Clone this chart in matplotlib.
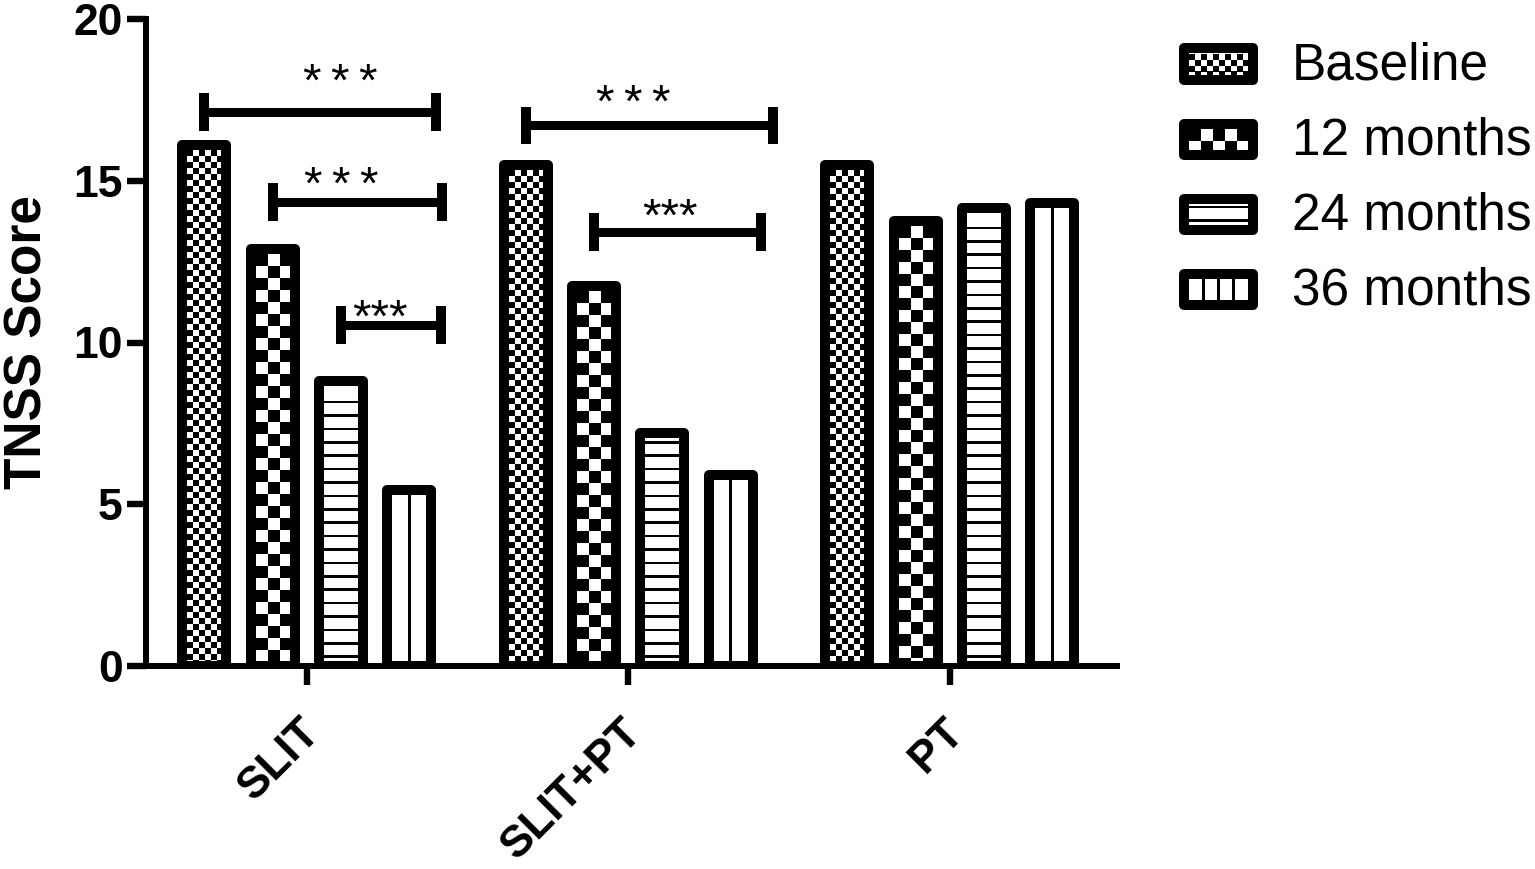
import numpy as np
import matplotlib
matplotlib.use("Agg")
import matplotlib.pyplot as plt
from matplotlib.patches import Rectangle
from matplotlib.collections import PatchCollection
from matplotlib.legend_handler import HandlerBase
from matplotlib.transforms import Affine2D, ScaledTranslation

# ----------------------------- Data ------------------------------------------

GROUPS = ["SLIT", "SLIT+PT", "PT"]
SERIES = ["Baseline", "12 months", "24 months", "36 months"]
BASELINE = [16.1, 15.5, 15.5]
MONTH_12 = [12.9, 11.75, 13.75]
MONTH_24 = [8.8, 7.2, 14.15]
MONTH_36 = [5.45, 5.9, 14.3]
VALUES = [BASELINE, MONTH_12, MONTH_24, MONTH_36]

# significance brackets: (group, from series, to series, line height, stars)
BRACKETS = [
    (0, 0, 3, 17.12, "*\u2009*\u2009*"),
    (0, 1, 3, 14.34, "*\u2009*\u2009*"),
    (0, 2, 3, 10.54, "***"),
    (1, 0, 2, 16.71, "*\u2009*\u2009*"),
    (1, 1, 3, 13.42, "***"),
]
# extra reach past the right bar, label shift, label top (layout only)
BRACKET_REACH = [0.083, 0.102, 0.098, 0.343, 0.095]
STAR_DX = [0.062, -0.049, -0.035, -0.051, -0.025]
STAR_TOP = [18.67, 15.49, 11.40, 18.02, 14.50]

PATTERNS = ["fine", "coarse", "hlines", "vlines"]

# ----------------------------- Style -----------------------------------------

DPI = 100
PX = 72.0 / DPI            # points per pixel
EDGE_PX = 10.0
EDGE_LW = EDGE_PX * PX
BAR_WIDTH = 0.137
BAR_STEP = 0.2125

plt.rcParams["font.family"] = ["Liberation Sans", "DejaVu Sans"]


def pattern_rects(kind, w, h):
    """Black rectangles (in pixels) filling an inner area of w x h pixels."""
    rects = []
    if kind in ("fine", "coarse"):
        c = 6.0 if kind == "fine" else 12.0
        nx = int(np.ceil(w / c))
        ny = int(np.ceil(h / c))
        for i in range(nx):
            for j in range(ny):
                if (i + j) % 2 == 0:
                    x, y = i * c, h - (j + 1) * c
                    y0 = max(y, 0.0)
                    rects.append((x, y0, min(c, w - x), y + c - y0))
    elif kind == "hlines":
        step, thick = 13.4, 2.6
        y = 3.0
        while y + thick < h - 2.0:
            rects.append((0.0, y, w, thick))
            y += step
    elif kind == "vlines":
        step, thick = 15.0, 3.0
        centre = w / 2.0
        k = int(w // step) + 1
        for i in range(-k, k + 1):
            x = centre + i * step
            if x - thick / 2 >= 4.0 and x + thick / 2 <= w - 4.0:
                rects.append((x - thick / 2, 0.0, thick, h))
    return rects


class HandlerPattern(HandlerBase):
    def __init__(self, kind):
        super().__init__()
        self.kind = kind

    def create_artists(self, legend, orig_handle, xdescent, ydescent,
                       width, height, fontsize, trans):
        half = EDGE_LW / 2
        x0, y0 = -xdescent + half, -ydescent + half - 2.5 * PX
        w, h = width - EDGE_LW, height - EDGE_LW
        arts = []
        ix, iy = x0 + half, y0 + half
        iw, ih = (w - EDGE_LW) / PX, (h - EDGE_LW) / PX
        for rx, ry, rw, rh in pattern_rects(self.kind, iw, ih):
            arts.append(Rectangle((ix + rx * PX, iy + ry * PX), rw * PX, rh * PX,
                                  facecolor="black", edgecolor="none",
                                  transform=trans))
        arts.append(Rectangle((x0, y0), w, h, facecolor="none", edgecolor="black",
                              linewidth=EDGE_LW, joinstyle="round", transform=trans))
        return arts


fig = plt.figure(figsize=(15.35, 8.69), dpi=DPI)
ax = fig.add_axes([146 / 1535, (869 - 666) / 869, (1117 - 146) / 1535, (666 - 19) / 869])
ax.set_xlim(-0.5, 2.52)
ax.set_ylim(0, 20)

p0 = ax.transData.transform((0, 0))
p1 = ax.transData.transform((1, 1))
sx, sy = p1 - p0

x = np.arange(len(GROUPS))
offsets = (np.arange(len(SERIES)) - 1.5) * BAR_STEP

for k, vals in enumerate(VALUES):
    xs = x + offsets[k]
    ax.bar(xs, vals, BAR_WIDTH, facecolor="none", edgecolor="black",
           linewidth=EDGE_LW, joinstyle="round", zorder=3)
    for xc, v in zip(xs, vals):
        w_px = BAR_WIDTH * sx - EDGE_PX
        h_px = v * sy - EDGE_PX
        rects = [Rectangle((rx, ry), rw, rh)
                 for rx, ry, rw, rh in pattern_rects(PATTERNS[k], w_px, h_px)]
        tr = (Affine2D().scale(1 / sx, 1 / sy)
              .translate(xc - BAR_WIDTH / 2 + EDGE_PX / 2 / sx, EDGE_PX / 2 / sy)
              + ax.transData)
        pc = PatchCollection(rects, facecolor="black", edgecolor="none",
                             transform=tr, zorder=2)
        ax.add_collection(pc)

# significance brackets
cap = 0.58
for (g, i0, i1, yb, stars), reach, dx, top in zip(BRACKETS, BRACKET_REACH, STAR_DX, STAR_TOP):
    xl = g + offsets[i0]
    xr = g + offsets[i1] + reach
    ax.plot([xl, xr], [yb, yb], color="black", lw=6.5, solid_capstyle="butt", zorder=4)
    for xe in (xl, xr):
        ax.plot([xe, xe], [yb - cap, yb + cap], color="black", lw=7.2,
                solid_capstyle="butt", zorder=4)
    ax.text((xl + xr) / 2 + dx, top, stars, ha="center", va="top", fontsize=34)

ax.spines["top"].set_visible(False)
ax.spines["right"].set_visible(False)
for side in ("left", "bottom"):
    ax.spines[side].set_linewidth(4.3)
ax.tick_params(axis="both", length=13.7, width=4.6, labelsize=32, pad=3)
ax.tick_params(axis="x", pad=19)

ax.set_yticks([0, 5, 10, 15, 20])
ax.set_xticks(x)
ax.set_xticklabels(GROUPS, rotation=45, ha="right", rotation_mode="anchor")
shift = ScaledTranslation(-7 / DPI, 0, fig.dpi_scale_trans)
for lab in ax.get_xticklabels():
    lab.set_transform(lab.get_transform() + shift)
for lab in ax.get_xticklabels() + ax.get_yticklabels():
    lab.set_fontweight("bold")

ax.set_ylabel("TNSS Score", fontsize=37, fontweight="bold")
ax.yaxis.set_label_coords(-0.0958, 0.5)

proxies = [Rectangle((0, 0), 1, 1) for _ in SERIES]
ax.legend(proxies, SERIES, handler_map={p: HandlerPattern(k) for p, k in zip(proxies, PATTERNS)},
          loc="upper left", bbox_to_anchor=(1179 / 1535, 1 - 41 / 869),
          bbox_transform=fig.transFigure, frameon=False, fontsize=37,
          borderpad=0, borderaxespad=0, handlelength=1.54, handleheight=0.857,
          handletextpad=0.66, labelspacing=0.5)

fig.savefig("out.png", dpi=DPI)
